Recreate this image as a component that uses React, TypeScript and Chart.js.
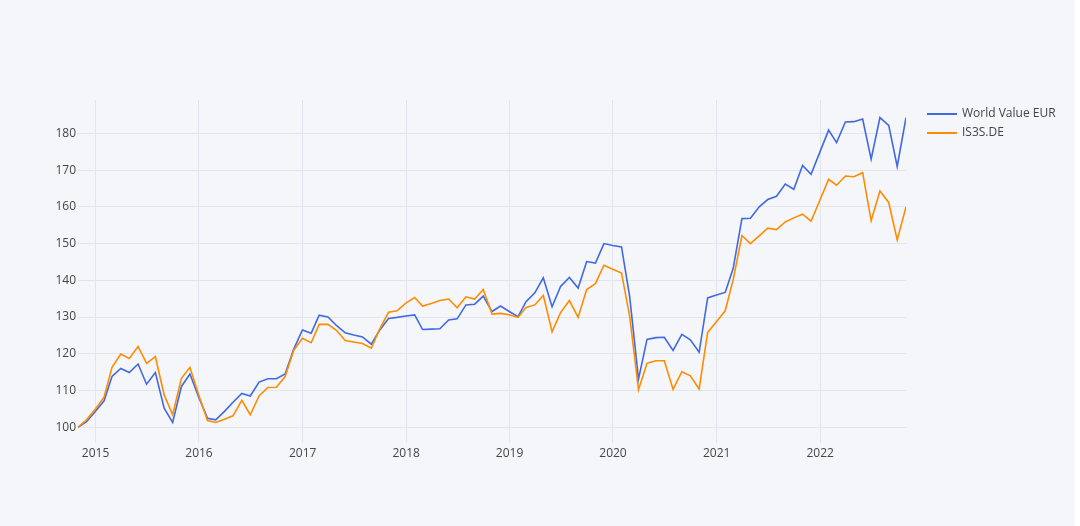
import React, { useEffect, useRef } from "react";
import { Chart, registerables } from "chart.js";

Chart.register(...registerables);

// Monthly (month-end) observations starting October 2014
const START_YEAR = 2014;
const START_MONTH = 10; // October
const SERIES_NAMES = ["World Value EUR", "IS3S.DE"];
const YEAR_TICKS = [2015, 2016, 2017, 2018, 2019, 2020, 2021, 2022];
const Y_TICKS = [100, 110, 120, 130, 140, 150, 160, 170, 180];

const worldValue = [
  100, 101.5, 104.3, 107.2, 113.8, 116, 114.9, 117.2, 111.7, 114.9, 105.2, 101.3,
  111.1, 114.5, 108.2, 102.4, 102, 104.3, 106.8, 109.2, 108.5, 112.3, 113.2, 113.2,
  114.5, 121.2, 126.5, 125.6, 130.5, 130, 127.7, 125.7, 125.1, 124.6, 122.6, 126.5,
  129.6, 129.9, 130.3, 130.6, 126.6, 126.7, 126.8, 129.2, 129.5, 133.3, 133.5, 135.7,
  131.5, 133, 131.5, 130.1, 134.2, 136.6, 140.7, 132.8, 138.3, 140.8, 137.9, 145.1,
  144.7, 150, 149.5, 149.1, 135.5, 113.1, 123.9, 124.4, 124.5, 120.9, 125.3, 123.8,
  120.4, 135.2, 136, 136.7, 143.2, 156.8, 156.9, 160, 162, 162.9, 166.2, 164.8,
  171.3, 168.9, 174.9, 180.9, 177.5, 183.1, 183.2, 183.9, 173, 184.3, 182.2, 171,
  184.3,
];

const is3s = [
  100, 102, 104.9, 108.2, 116.3, 119.9, 118.7, 122, 117.4, 119.2, 108.8, 103.4,
  113.3, 116.3, 108.8, 101.8, 101.3, 102.2, 103.1, 107.3, 103.4, 108.5, 110.8, 110.9,
  113.8, 120.9, 124.2, 123, 128, 128, 126.4, 123.6, 123.2, 122.8, 121.5, 126.8,
  131.3, 131.7, 133.8, 135.3, 133, 133.7, 134.5, 134.9, 132.5, 135.5, 134.9, 137.5,
  130.8, 131, 130.6, 129.9, 132.6, 133.3, 135.9, 126, 131.2, 134.5, 129.9, 137.5,
  139.1, 144.1, 143, 142, 130.1, 110.2, 117.4, 118.1, 118.1, 110.3, 115.1, 114,
  110.4, 125.8, 128.7, 131.7, 140.1, 152.2, 150, 152.1, 154.2, 153.8, 155.9, 157,
  158, 156.1, 161.8, 167.5, 165.9, 168.4, 168.2, 169.3, 156.2, 164.3, 161.2, 151,
  160,
];

// month-end timestamps (category axis)
const monthEnds: number[] = worldValue.map((_, i) =>
  Date.UTC(START_YEAR, START_MONTH - 1 + i + 1, 0)
);

const COLORS = ["#4169E1", "#FF8C00"];
const BG = "#f4f6fa";
const GRID = "#e1e5ed";
const TEXT = "#444";
const FONT = "'Open Sans', verdana, arial, sans-serif";

const legendPlugin = {
  id: "customLegend",
  afterDraw(chart: any) {
    const ctx = chart.ctx;
    const x0 = 927;
    const rows = [114, 133];
    ctx.save();
    chart.data.datasets.forEach((ds: any, i: number) => {
      const y = rows[i];
      ctx.strokeStyle = ds.borderColor;
      ctx.lineWidth = 2;
      ctx.beginPath();
      ctx.moveTo(x0, y);
      ctx.lineTo(x0 + 30, y);
      ctx.stroke();
      ctx.fillStyle = TEXT;
      ctx.font = `12px ${FONT}`;
      ctx.textBaseline = "middle";
      ctx.textAlign = "left";
      ctx.fillText(ds.label, x0 + 35, y);
    });
    ctx.restore();
  },
};

export default function App() {
  const ref = useRef<HTMLCanvasElement | null>(null);

  useEffect(() => {
    if (!ref.current) return;
    const chart = new Chart(ref.current, {
      type: "line",
      data: {
        datasets: [
          {
            label: SERIES_NAMES[0],
            data: monthEnds.map((t, i) => ({ x: t, y: worldValue[i] })),
            borderColor: COLORS[0],
            backgroundColor: COLORS[0],
            borderWidth: 1.6,
            pointRadius: 0,
            tension: 0,
            order: 1,
          },
          {
            label: SERIES_NAMES[1],
            data: monthEnds.map((t, i) => ({ x: t, y: is3s[i] })),
            borderColor: COLORS[1],
            backgroundColor: COLORS[1],
            borderWidth: 1.6,
            pointRadius: 0,
            tension: 0,
            order: 0,
          },
        ],
      },
      options: {
        responsive: false,
        animation: false,
        maintainAspectRatio: false,
        layout: { padding: { left: 0, top: 100, right: 174, bottom: 0 } },
        plugins: {
          legend: { display: false },
          tooltip: { enabled: false },
        },
        scales: {
          x: {
            type: "linear",
            min: monthEnds[0],
            max: monthEnds[monthEnds.length - 1],
            afterFit: (s: any) => {
              s.height = 83;
            },
            afterBuildTicks: (s: any) => {
              s.ticks = YEAR_TICKS.map((y) => ({ value: Date.UTC(y, 0, 1) }));
            },
            ticks: {
              autoSkip: false,
              maxRotation: 0,
              padding: 3,
              color: TEXT,
              font: { family: FONT, size: 12 },
              callback: (v: any) => String(new Date(v).getUTCFullYear()),
            },
            grid: { color: GRID, lineWidth: 1, drawTicks: false },
            border: { display: false },
          },
          y: {
            type: "linear",
            min: 95.7,
            max: 189.1,
            afterFit: (s: any) => {
              s.width = 78;
            },
            afterBuildTicks: (s: any) => {
              s.ticks = Y_TICKS.map((v) => ({ value: v }));
            },
            ticks: {
              padding: 2,
              color: TEXT,
              font: { family: FONT, size: 12 },
              callback: (v: any) => String(v),
            },
            grid: { color: GRID, lineWidth: 1, drawTicks: false },
            border: { display: false },
          },
        },
      },
      plugins: [legendPlugin],
    });
    return () => chart.destroy();
  }, []);

  return (
    <div
      style={{
        position: "fixed",
        left: 0,
        top: 0,
        width: 1080,
        height: 526,
        background: "#ffffff",
      }}
    >
      <div
        style={{
          position: "absolute",
          left: 0,
          top: 0,
          width: 1075,
          height: 526,
          background: BG,
        }}
      />
      <canvas
        ref={ref}
        width={1080}
        height={526}
        style={{ display: "block", position: "absolute", left: 0, top: 0 }}
      />
    </div>
  );
}
